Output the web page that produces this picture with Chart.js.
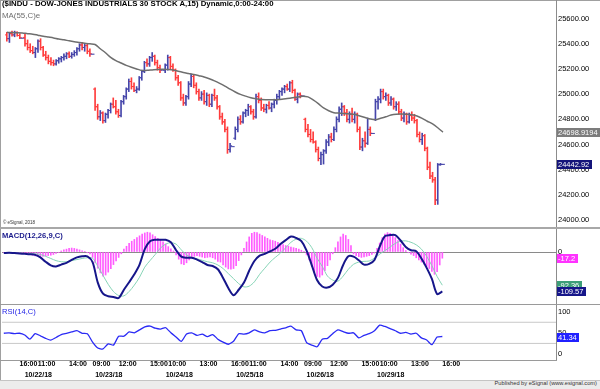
<!DOCTYPE html>
<html>
<head>
<meta charset="utf-8">
<script src="https://cdn.jsdelivr.net/npm/chart.js@4.4.0/dist/chart.umd.min.js"></script>
<style>
  html, body { margin: 0; padding: 0; background: #fff; }
  #wrap { position: relative; width: 600px; height: 389px; overflow: hidden; background: #fff;
          font-family: "Liberation Sans", Arial, sans-serif; }
  canvas { position: absolute; left: 0; }
  .ln { position: absolute; background: #a0a0a0; }
  .txt { position: absolute; white-space: nowrap; line-height: 1; }
</style>
</head>
<body>
<div id="wrap">
  <canvas id="priceChart" width="600" height="229" style="top:0;width:600px;height:229px"></canvas>
  <canvas id="macdChart" width="600" height="77" style="top:228px;width:600px;height:77px"></canvas>
  <canvas id="rsiChart" width="600" height="77" style="top:304px;width:600px;height:77px"></canvas>

  <div class="ln" style="left:0;top:0;width:600px;height:1px"></div>
  <div class="ln" style="left:0;top:0;width:1px;height:380px"></div>
  <div class="ln" style="left:556px;top:0;width:1px;height:361px;background:#8c8c8c"></div>
  <div class="ln" style="left:0;top:227px;width:600px;height:2px;background:#a8a8a8"></div>
  <div class="ln" style="left:0;top:304px;width:600px;height:1px;background:#9a9a9a"></div>
  <div class="ln" style="left:0;top:360px;width:557px;height:1px;background:#9a9a9a"></div>
  <div class="ln" style="left:0;top:380px;width:600px;height:9px;background:#ececec;border-top:1px solid #c4c4c4"></div>

  <div class="txt" style="left:2px;top:0px;font-size:7.8px;font-weight:bold;color:#000">($INDU - DOW-JONES INDUSTRIALS 30 STOCK A,15) Dynamic,0:00-24:00</div>
  <div class="txt" style="left:2px;top:11.6px;font-size:7.9px;color:#6e6e6e">MA(55,C)e</div>
  <div class="txt" style="left:3px;top:221.2px;font-size:4.5px;color:#333">© eSignal, 2018</div>
  <div class="txt" style="left:2px;top:231.6px;font-size:7.6px;font-weight:bold;color:#1a1a8c">MACD(12,26,9,C)</div>
  <div class="txt" style="left:2px;top:307.5px;font-size:7.6px;color:#2525e6">RSI(14,C)</div>
  <div class="txt" style="right:3px;top:381px;font-size:5.7px;color:#333">Published by eSignal (www.esignal.com)</div>
</div>

<script>
// sessions shown (15 minute bars, last bar of each day is the 16:00 print)
const sessionDates = ['10/19/18', '10/22/18', '10/23/18', '10/24/18', '10/25/18', '10/26/18', '10/29/18'];
const sessionStart = ['14:30', '09:30', '09:30', '09:30', '09:30', '09:30', '09:30'];
const sessionEnd = '16:00';
const barMinutes = 15;

// OHLC, one value per bar
const opens = [
  25470,25440,25480,25470,25490,25465,25444,
  25450,25400,25370,25345,25330,25360,25420,25370,25310,25290,25260,25250,25240,25265,25280,25290,25300,25320,25300,25315,25330,25360,25390,25370,25385,25340,25317,
  25040,24900,24820,24850,24790,24840,24870,24920,24900,24860,24830,24940,24980,25040,25100,25060,25030,25040,25130,25180,25250,25240,25290,25300,25250,25210,25191,
  25190,25230,25290,25220,25190,25130,25090,24970,24930,24980,25080,25140,25070,25020,24970,25000,24940,24990,24920,24990,24970,24900,24820,24780,24720,24560,24583,
  24650,24720,24800,24780,24850,24870,24900,24860,24820,24980,24950,24890,24880,24910,24890,24920,24950,24980,25020,25040,25060,25040,25090,25030,24960,25000,24985,
  24800,24720,24680,24640,24620,24560,24490,24520,24550,24620,24660,24640,24720,24800,24880,24900,24850,24800,24840,24800,24840,24720,24580,24630,24610,24720,24688,
  24800,24940,24960,25020,24980,24990,24930,24960,24900,24920,24860,24810,24840,24780,24830,24810,24790,24680,24640,24670,24570,24420,24350,24320,24160,24440,24442.92
];
const highs = [
  25490,25490,25500,25500,25495,25480,25444,
  25480,25430,25400,25380,25370,25430,25440,25380,25340,25310,25290,25270,25275,25290,25300,25320,25330,25335,25330,25345,25370,25400,25410,25400,25395,25360,25317,
  25050,24920,24870,24860,24850,24880,24930,24970,24950,24880,24950,24990,25050,25120,25130,25090,25060,25140,25190,25260,25280,25300,25330,25310,25270,25230,25191,
  25240,25310,25300,25240,25200,25150,25100,25000,24990,25100,25160,25150,25090,25040,25020,25030,25010,25000,25000,25040,24990,24910,24850,24800,24740,24610,24583,
  24740,24820,24830,24860,24880,24920,24910,24880,25000,25010,24970,24920,24920,24940,24930,24960,25000,25030,25050,25070,25080,25100,25110,25040,25010,25010,24985,
  24810,24760,24720,24700,24630,24580,24540,24560,24640,24680,24690,24740,24820,24900,24930,24910,24880,24860,24890,24860,24850,24740,24650,24700,24810,24740,24688,
  24960,24980,25040,25040,25010,25000,24980,24970,24940,24940,24880,24860,24850,24850,24860,24840,24800,24700,24690,24680,24580,24460,24380,24340,24450,24450,24442.92
];
const lows = [
  25420,25410,25460,25455,25460,25440,25444,
  25380,25350,25330,25320,25290,25330,25350,25300,25270,25240,25230,25225,25230,25245,25255,25270,25280,25290,25285,25300,25310,25340,25350,25340,25320,25300,25317,
  24870,24800,24790,24770,24775,24810,24850,24890,24840,24815,24820,24920,24960,25020,25040,25020,25010,25030,25110,25170,25220,25220,25260,25230,25190,25170,25191,
  25170,25190,25200,25180,25110,25070,24950,24910,24910,24960,25060,25050,25000,24950,24950,24920,24910,24900,24900,24950,24880,24800,24760,24700,24530,24540,24583,
  24640,24700,24760,24770,24820,24830,24840,24800,24810,24930,24870,24860,24850,24880,24860,24890,24920,24960,24990,25010,25030,25020,25010,24950,24930,24970,24985,
  24700,24660,24620,24610,24540,24470,24440,24445,24530,24590,24620,24630,24700,24780,24830,24830,24780,24770,24780,24770,24700,24560,24550,24580,24600,24670,24688,
  24790,24880,24930,24960,24950,24910,24910,24880,24870,24840,24790,24780,24760,24770,24790,24770,24660,24620,24600,24550,24400,24330,24300,24122,24125,24435,24442.92
];
const closes = [
  25440,25480,25470,25490,25465,25447,25444,
  25400,25370,25345,25330,25360,25420,25370,25310,25290,25260,25250,25240,25265,25280,25290,25300,25320,25300,25315,25330,25360,25390,25370,25385,25340,25320,25317,
  24900,24820,24850,24790,24840,24870,24920,24900,24860,24830,24940,24980,25040,25100,25060,25030,25040,25130,25180,25250,25240,25290,25300,25250,25210,25190,25191,
  25230,25290,25220,25190,25130,25090,24970,24930,24980,25080,25140,25070,25020,24970,25000,24940,24990,24920,24990,24970,24900,24820,24780,24720,24560,24590,24583,
  24720,24800,24780,24850,24870,24900,24860,24820,24980,24950,24890,24880,24910,24890,24920,24950,24980,25020,25040,25060,25040,25090,25030,24960,25000,24990,24985,
  24720,24680,24640,24620,24560,24490,24520,24550,24620,24660,24640,24720,24800,24880,24900,24850,24800,24840,24800,24840,24720,24580,24630,24610,24720,24690,24688,
  24940,24960,25020,24980,24990,24930,24960,24900,24920,24860,24810,24840,24780,24830,24810,24790,24680,24640,24670,24570,24420,24350,24320,24160,24440,24443,24442.92
];

// indicator lines, read every 2nd bar
const lineEvery = 2;
const ma55 = [
  25490,25488,25487,25485,25480,25476,25468,25460,25453,25446,25437,25431,25423,25416,25410,25404,25399,25394,25360,25328,
  25292,25266,25247,25228,25213,25200,25188,25189,25192,25195,25197,25195,25191,25181,25172,25164,25156,25146,25136,25122,
  25105,25085,25063,25039,25017,24998,24984,24972,24964,24958,24956,24955,24956,24959,24965,24971,24977,24984,24978,24955,
  24925,24890,24868,24853,24850,24847,24843,24839,24827,24815,24803,24797,24808,24820,24834,24841,24842,24840,24836,24826,
  24808,24785,24763,24733,24698.9194
];
const macdLine = [
  -3,-2,-3,-4,-5,-6,-8,-15,-27,-37,-40,-35,-30,-22,-15,-12,-12,-28,-85,-116,
  -123,-125,-128,-105,-84,-62,-35,8,30,34,34,34,27,5,-13,-16,-16,-21,-28,-36,
  -39,-48,-72,-100,-120,-105,-85,-52,-25,-10,-5,2,9,22,33,43,39,30,4,-37,
  -78,-96,-99,-91,-72,-36,-12,-13,-23,-35,-33,-22,15,44,47,47,32,14,5,2,
  -18,-44,-75,-117,-109.57
];
const signalLine = [
  -2,-2,-3,-3,-4,-5,-5,-7,-12,-18,-24,-27,-27,-24,-21,-18,-16,-17,-40,-65,
  -90,-110,-121,-122,-110,-92,-70,-42,-24,-7,11,22,26,22,6,-8,-15,-19,-23,-27,
  -30,-36,-46,-60,-74,-88,-97,-95,-83,-62,-45,-28,-15,-3,12,27,36,38,30,12,
  -17,-40,-67,-78,-81,-67,-48,-34,-28,-26,-25,-17,-6,4,14,24,30,31,27,20,
  8,-12,-38,-68,-92.36
];
const rsi14 = [
  49,50,48,49,45,35,48,43,37,33,39,46,49,52,55,49,48,28,14,12,
  24,21,42,42,52,50,57,64,66,61,59,62,50,40,30,47,50,44,47,41,
  46,35,28,23,30,48,47,50,57,52,50,55,56,59,62,66,57,55,27,21,
  17,35,37,48,57,53,49,50,38,44,48,55,68,65,60,55,49,51,47,49,
  38,33,22,40,41.34
];
// MACD histogram, one value per bar
const macdHist = [
  -1,-1,-2,-2,-2,-1,-1,-2,-3,
  -5,-7,-9,-11,-12,-12,-12,-11,-10,-9,-7,-4,-1,
  3,6,8,10,11,10,8,6,3,1,
  -2,-5,-15,-30,-45,-58,-67,-64,-56,-46,-35,-25,-15,-5,
  8,16,24,30,35,40,45,50,53,55,53,48,43,38,33,28,22,15,9,3,
  -8,-20,-33,-35,-30,-22,-16,-12,-10,-12,-14,-16,-15,-14,-16,-20,-26,
  -28,-36,-42,-47,-48,-46,-38,-24,-8,10,28,
  42,52,55,54,50,46,42,38,34,32,30,27,24,21,18,16,14,12,10,8,5,2,
  -8,-22,-40,-56,-68,-70,-64,-52,-38,-22,
  -5,12,28,42,50,46,35,18,
  -5,-10,-13,-15,-14,-12,-10,-7,-3,
  10,25,40,50,54,52,47,40,32,22,12,4,-2,-6,-10,
  -16,-22,-28,-34,-40,-46,-54,-62,-55,-36,-17.2
];

const priceTicks = [24000, 24200, 24400, 24600, 24800, 25000, 25200, 25400, 25600];
const macdTicks = [0];
const rsiTicks = [0, 50, 100];
const rsiBands = [25, 75];

const timeTickLabels = ['16:00','11:00','14:00','09:00','12:00','15:00','10:00','13:00','16:00','11:00','14:00','09:00','12:00','15:00','10:00','13:00','16:00'];
const timeTickBars = ['10/19/18 16:00','10/22/18 11:00','10/22/18 14:00','10/23/18 09:30','10/23/18 12:00','10/23/18 15:00',
  '10/24/18 10:00','10/24/18 13:00','10/24/18 16:00','10/25/18 11:00','10/25/18 14:00','10/26/18 09:30',
  '10/26/18 12:00','10/26/18 15:00','10/29/18 10:00','10/29/18 13:00','10/29/18 16:00'];
const dateTickLabels = sessionDates.slice(1);

// ---- build bar index from the sessions
const pad2 = n => String(n).padStart(2, '0');
const toMin = s => { const [h, m] = s.split(':').map(Number); return h * 60 + m; };
const barKeys = [];
sessionDates.forEach((d, s) => {
  for (let t = toMin(sessionStart[s]); t <= toMin(sessionEnd); t += barMinutes) {
    barKeys.push(d + ' ' + pad2(Math.floor(t / 60)) + ':' + pad2(t % 60));
  }
});
const timeTickAt = timeTickBars.map(k => barKeys.indexOf(k));
const timeLabelAt = new Map(timeTickAt.map((v, k) => [v, timeTickLabels[k]]));
const dateTickAt = dateTickLabels.map(d => barKeys.indexOf(d + ' 09:45'));
const dateLabelAt = new Map(dateTickAt.map((v, k) => [v, dateTickLabels[k]]));

const X_MIN = -0.7, X_MAX = 211.55;
const UP = '#4646aa', DOWN = '#ff3c3c';
const FONT = '"Liberation Sans", Arial, sans-serif';
Chart.defaults.font.family = FONT;

const barColors = closes.map((c, i) => c >= opens[i] ? UP : DOWN);
const sampled = arr => arr.map((v, k) => ({ x: k * lineEvery, y: v }));
const flatLine = v => [{ x: X_MIN, y: v }, { x: X_MAX, y: v }];

const lastTags = {
  id: 'lastTags',
  afterDraw(chart, args, opts) {
    const { ctx, chartArea } = chart;
    const ys = chart.scales.y;
    ctx.save();
    ctx.font = '7.5px ' + FONT;
    ctx.textBaseline = 'middle';
    (opts.tags || []).forEach(t => {
      const py = Math.round(ys.getPixelForValue(t.value));
      const txt = String(t.value);
      const w = Math.ceil(ctx.measureText(txt).width) + 3;
      ctx.fillStyle = t.bg;
      ctx.fillRect(chartArea.right + 1, py - 4, w, 9);
      ctx.fillStyle = '#fff';
      ctx.fillText(txt, chartArea.right + 2, py + 0.5);
    });
    ctx.restore();
  }
};

function hiddenX() {
  return { type: 'linear', min: X_MIN, max: X_MAX, offset: false, display: false };
}
function rightAxis(min, max, tickValues, extra) {
  const axis = {
    position: 'right', min: min, max: max, beginAtZero: false,
    border: { display: false },
    grid: { display: false, drawTicks: false },
    ticks: { padding: 2, color: '#000', font: { size: 7.5 }, autoSkip: false },
    afterBuildTicks: s => { s.ticks = tickValues.map(v => ({ value: v })); },
    afterFit: s => { s.width = 44; s.paddingTop = 0; s.paddingBottom = 0; }
  };
  return Object.assign(axis, extra || {});
}
const common = {
  responsive: false, animation: false, events: [],
  plugins: { legend: { display: false }, tooltip: { enabled: false } }
};

// ---- price panel
new Chart(document.getElementById('priceChart'), {
  type: 'bar',
  data: {
    datasets: [
      { type: 'line', data: sampled(ma55), borderColor: '#6e6e6e', borderWidth: 1.5,
        pointRadius: 0, tension: 0.3, order: 0 },
      { type: 'line', showLine: false, data: opens.map((v, i) => ({ x: i - 0.4, y: v })),
        pointStyle: 'line', pointRadius: 1, pointBorderWidth: 1, pointBorderColor: barColors, order: 1 },
      { type: 'line', showLine: false, data: closes.map((v, i) => ({ x: i + 0.4, y: v })),
        pointStyle: 'line', pointRadius: 1, pointBorderWidth: 1, pointBorderColor: barColors, order: 1 },
      { type: 'bar', data: highs.map((h, i) => ({ x: i, y: [lows[i], h] })),
        backgroundColor: barColors, barThickness: 1, borderWidth: 0, order: 2 }
    ]
  },
  options: Object.assign({}, common, {
    layout: { padding: { left: 2, top: 1, right: 0, bottom: 1 } },
    scales: {
      x: hiddenX(),
      y: rightAxis(23969.4, 25707.2, priceTicks, {
        ticks: { padding: 2, color: '#000', font: { size: 7.5 }, autoSkip: false, callback: v => v.toFixed(2) }
      })
    },
    plugins: Object.assign({}, common.plugins, {
      lastTags: { tags: [
        { value: ma55[ma55.length - 1], bg: '#7c7c7c' },
        { value: closes[closes.length - 1], bg: '#14147a' }
      ] }
    })
  }),
  plugins: [lastTags]
});

// ---- MACD panel
new Chart(document.getElementById('macdChart'), {
  type: 'bar',
  data: {
    datasets: [
      { type: 'line', data: sampled(macdLine), borderColor: '#16168a', borderWidth: 2,
        pointRadius: 0, tension: 0.3, order: 0 },
      { type: 'line', data: sampled(signalLine), borderColor: '#86d4b6', borderWidth: 1,
        pointRadius: 0, tension: 0.3, order: 1 },
      { type: 'bar', data: macdHist.map((v, i) => ({ x: i, y: v })),
        backgroundColor: '#ff5cff', barThickness: 1, borderWidth: 0, order: 2 }
    ]
  },
  options: Object.assign({}, common, {
    layout: { padding: { left: 2, top: 1, right: 0, bottom: 1 } },
    scales: {
      x: hiddenX(),
      y: rightAxis(-144.6, 64, macdTicks, {
        grid: { display: true, drawTicks: false, color: '#8a8a8a', lineWidth: 1 }
      })
    },
    plugins: Object.assign({}, common.plugins, {
      lastTags: { tags: [
        { value: macdHist[macdHist.length - 1], bg: '#ff33ff' },
        { value: signalLine[signalLine.length - 1], bg: '#3c9e78' },
        { value: macdLine[macdLine.length - 1], bg: '#16168a' }
      ] }
    })
  }),
  plugins: [lastTags]
});

// ---- RSI panel with the time axis
const xTicks = (at, map, weight, height, pad) => ({
  type: 'linear', min: X_MIN, max: X_MAX, offset: false, position: 'bottom', weight: weight,
  grid: { display: false, drawTicks: false }, border: { display: false },
  afterBuildTicks: s => { s.ticks = at.map(v => ({ value: v })); },
  afterFit: s => { s.height = height; s.paddingLeft = 0; s.paddingRight = 0; },
  ticks: { autoSkip: false, maxRotation: 0, minRotation: 0, align: 'start', padding: pad,
           color: '#000', font: { size: 7, weight: 'bold' }, callback: v => map.get(v) }
});

new Chart(document.getElementById('rsiChart'), {
  type: 'line',
  data: {
    datasets: [
      { data: sampled(rsi14), borderColor: '#2a2af5', borderWidth: 1.3, pointRadius: 0, tension: 0.2, order: 0 },
      { data: flatLine(rsiBands[0]), borderColor: '#c8c8c8', borderWidth: 1, pointRadius: 0, order: 1 },
      { data: flatLine(rsiBands[1]), borderColor: '#c8c8c8', borderWidth: 1, pointRadius: 0, order: 1 }
    ]
  },
  options: Object.assign({}, common, {
    layout: { padding: { left: 2, top: 1, right: 0, bottom: 0 } },
    scales: {
      x: xTicks(timeTickAt, timeLabelAt, 1, 10, 0),
      xDate: xTicks(dateTickAt, dateLabelAt, 2, 11, 1),
      y: rightAxis(-14.2, 115.8, rsiTicks, {
        ticks: { padding: 2, color: '#000', font: { size: 7.5 }, autoSkip: false,
                 callback: v => String(v) }
      })
    },
    plugins: Object.assign({}, common.plugins, {
      lastTags: { tags: [ { value: rsi14[rsi14.length - 1], bg: '#2020ff' } ] }
    })
  }),
  plugins: [lastTags]
});
</script>
</body>
</html>
